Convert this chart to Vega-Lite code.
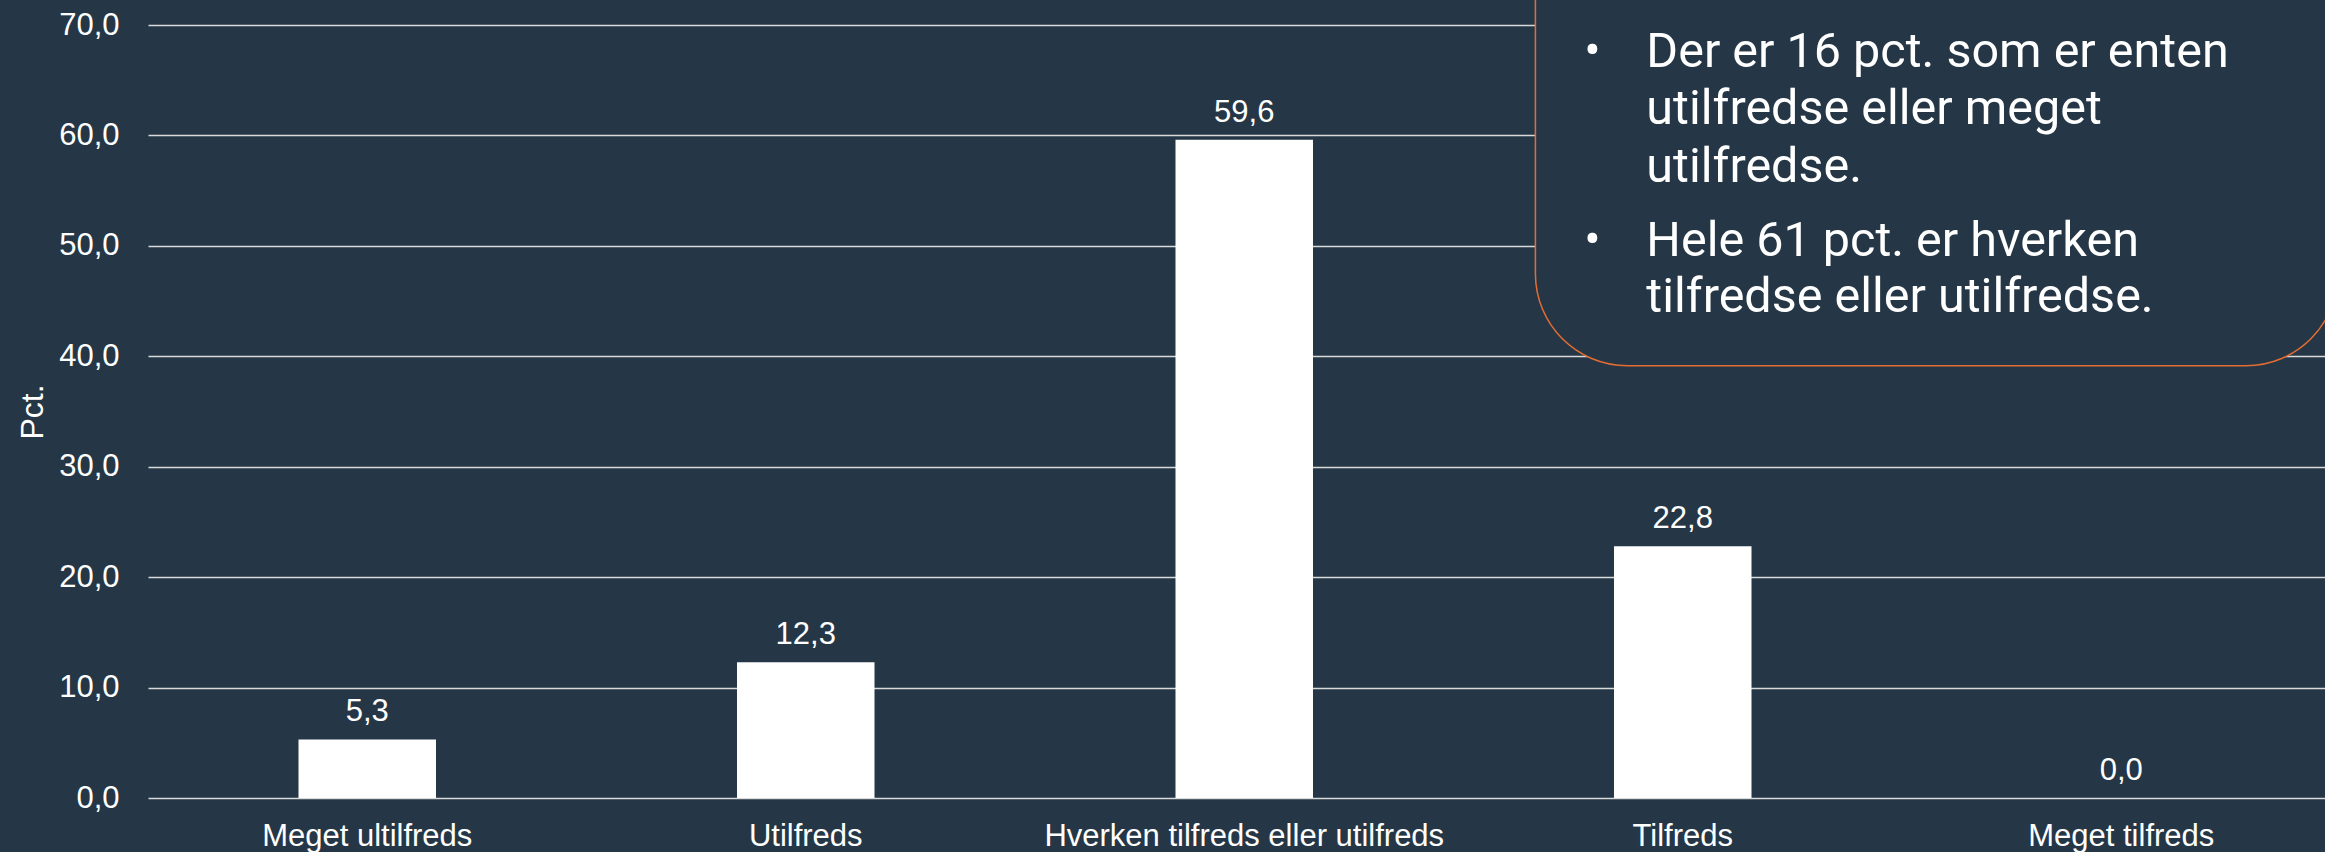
{
  "$schema": "https://vega.github.io/schema/vega-lite/v6.json",
  "width": 2177,
  "height": 773,
  "autosize": {"type": "none"},
  "padding": {"left": 148, "top": 25, "right": 0, "bottom": 54},
  "background": "#253746",
  "config": {
    "view": {"stroke": null},
    "font": "Liberation Sans",
    "locale": {"number": {"decimal": ",", "thousands": ".", "grouping": [3], "currency": ["", " kr."]}}
  },
  "layer": [
    {
      "data": {"values": [
        {"kategori": "Meget ultilfreds", "pct": 5.3},
        {"kategori": "Utilfreds", "pct": 12.3},
        {"kategori": "Hverken tilfreds eller utilfreds", "pct": 59.6},
        {"kategori": "Tilfreds", "pct": 22.8},
        {"kategori": "Meget tilfreds", "pct": 0.0}
      ]},
      "encoding": {
        "x": {
          "field": "kategori", "type": "nominal", "sort": null,
          "scale": {"range": [0, 2192.5], "paddingInner": 0, "paddingOuter": 0},
          "axis": {"title": null, "domain": false, "ticks": false, "grid": false, "labelAngle": 0, "labelLimit": 0, "labelFontSize": 31, "labelColor": "white", "labelPadding": 23, "labelFont": "Liberation Sans"}
        },
        "y": {
          "field": "pct", "type": "quantitative",
          "scale": {"domain": [0, 70], "nice": false, "zero": true},
          "axis": {"title": "Pct.", "values": [0, 10, 20, 30, 40, 50, 60, 70], "format": ".1f", "grid": true, "gridColor": "#D9D9D9", "gridWidth": 1.5, "domain": false, "ticks": false, "labelPadding": 29, "labelFontSize": 31, "labelColor": "white", "labelFont": "Liberation Sans", "titleFontSize": 32, "titleColor": "white", "titleFontWeight": "normal", "titleFont": "Liberation Sans", "titlePadding": 9}
        }
      },
      "layer": [
        {"mark": {"type": "bar", "color": "white", "width": {"band": 0.3136}}},
        {
          "mark": {"type": "text", "color": "white", "fontSize": 31, "font": "Liberation Sans", "baseline": "alphabetic", "dy": -18},
          "encoding": {"text": {"field": "pct", "type": "quantitative", "format": ".1f"}}
        }
      ]
    },
    {
      "data": {"values": [{}]},
      "layer": [
        {
          "mark": {"type": "rect", "fill": "#253746", "stroke": "#E46C33", "strokeWidth": 1.5, "cornerRadius": 92},
          "encoding": {
            "x": {"datum": 3.164, "type": "quantitative", "scale": {"domain": [0, 5], "range": [0, 2192.5], "nice": false, "zero": false}, "axis": null},
            "x2": {"datum": 4.994},
            "y": {"datum": 39.15, "type": "quantitative", "scale": {"domain": [0, 70], "nice": false}},
            "y2": {"datum": 95}
          }
        },
        {
          "mark": {"type": "text", "text": "•", "align": "center", "baseline": "alphabetic", "font": "Roboto", "fontSize": 48.5, "color": "white"},
          "encoding": {"x": {"datum": 3.294, "type": "quantitative"}, "y": {"datum": 66.22, "type": "quantitative"}}
        },
        {
          "mark": {"type": "text", "text": "•", "align": "center", "baseline": "alphabetic", "font": "Roboto", "fontSize": 48.5, "color": "white"},
          "encoding": {"x": {"datum": 3.294, "type": "quantitative"}, "y": {"datum": 49.11, "type": "quantitative"}}
        },
        {
          "mark": {"type": "text", "text": "Der er 16 pct. som er enten", "align": "left", "baseline": "alphabetic", "font": "Roboto", "fontSize": 48.5, "color": "white"},
          "encoding": {"x": {"datum": 3.417, "type": "quantitative"}, "y": {"datum": 66.22, "type": "quantitative"}}
        },
        {
          "mark": {"type": "text", "text": "utilfredse eller meget", "align": "left", "baseline": "alphabetic", "font": "Roboto", "fontSize": 48.5, "color": "white"},
          "encoding": {"x": {"datum": 3.417, "type": "quantitative"}, "y": {"datum": 61.04, "type": "quantitative"}}
        },
        {
          "mark": {"type": "text", "text": "utilfredse.", "align": "left", "baseline": "alphabetic", "font": "Roboto", "fontSize": 48.5, "color": "white"},
          "encoding": {"x": {"datum": 3.417, "type": "quantitative"}, "y": {"datum": 55.8, "type": "quantitative"}}
        },
        {
          "mark": {"type": "text", "text": "Hele 61 pct. er hverken", "align": "left", "baseline": "alphabetic", "font": "Roboto", "fontSize": 48.5, "color": "white"},
          "encoding": {"x": {"datum": 3.417, "type": "quantitative"}, "y": {"datum": 49.11, "type": "quantitative"}}
        },
        {
          "mark": {"type": "text", "text": "tilfredse eller utilfredse.", "align": "left", "baseline": "alphabetic", "font": "Roboto", "fontSize": 48.5, "color": "white"},
          "encoding": {"x": {"datum": 3.417, "type": "quantitative"}, "y": {"datum": 44.01, "type": "quantitative"}}
        }
      ]
    }
  ],
  "resolve": {"scale": {"x": "independent"}}
}
